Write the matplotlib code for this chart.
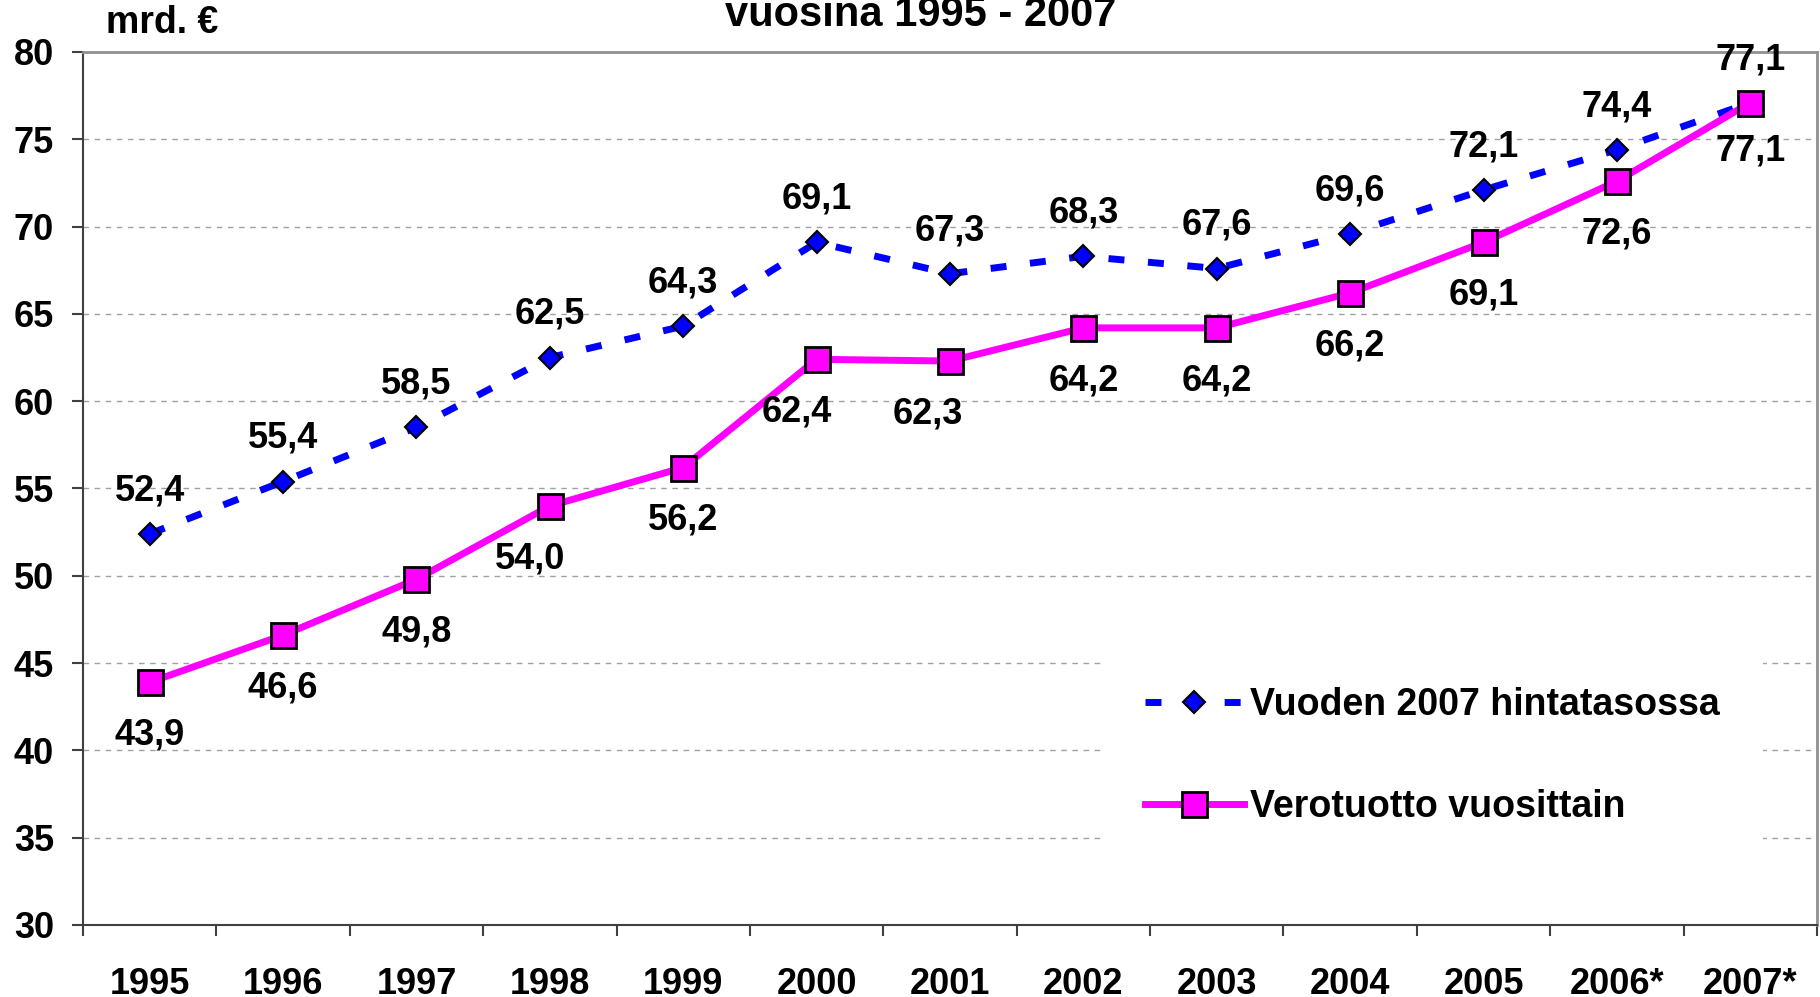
import matplotlib.pyplot as plt
import numpy as np

plt.rcParams['font.family'] = ['Liberation Sans', 'DejaVu Sans']
plt.rcParams['font.weight'] = 'bold'

years = ['1995', '1996', '1997', '1998', '1999', '2000', '2001', '2002',
         '2003', '2004', '2005', '2006*', '2007*']
real_2007 = [52.4, 55.4, 58.5, 62.5, 64.3, 69.1, 67.3, 68.3, 67.6, 69.6, 72.1, 74.4, 77.1]
nominal = [43.9, 46.6, 49.8, 54.0, 56.2, 62.4, 62.3, 64.2, 64.2, 66.2, 69.1, 72.6, 77.1]
real_label = 'Vuoden 2007 hintatasossa'
nominal_label = 'Verotuotto vuosittain'

BLUE = '#0000FF'
MAGENTA = '#FF00FF'
FS = 26

fig = plt.figure(figsize=(18.2, 9.97), dpi=100)
ax = fig.add_axes([83 / 1820, 1 - 925 / 997, (1817 - 83) / 1820, (925 - 52) / 997])

x = np.arange(len(years))

l1, = ax.plot(x, real_2007, color=BLUE, lw=5, dashes=(2.3, 3.4),
              marker='D', markersize=11, markerfacecolor=BLUE,
              markeredgecolor='black', markeredgewidth=1.5, zorder=3,
              label=real_label)
l2, = ax.plot(x, nominal, color=MAGENTA, lw=5, marker='s', markersize=18,
              markerfacecolor=MAGENTA, markeredgecolor='black',
              markeredgewidth=2, zorder=4, label=nominal_label)

# value labels
last = len(years) - 1
for i, v in enumerate(real_2007):
    dy = -35 if i == last else 31
    ax.annotate(f'{v:.1f}'.replace('.', ','), (i, v), xytext=(0, dy),
                textcoords='offset points', ha='center', va='center',
                fontsize=FS, fontweight='bold', zorder=5)
nominal_dx = {3: -14, 5: -14, 6: -16}
for i, v in enumerate(nominal):
    dy = 31 if i == last else -38
    ax.annotate(f'{v:.1f}'.replace('.', ','), (i, v),
                xytext=(nominal_dx.get(i, 0), dy),
                textcoords='offset points', ha='center', va='center',
                fontsize=FS, fontweight='bold', zorder=5)

ax.set_xlim(-0.5, len(years) - 0.5)
ax.set_ylim(30, 80)
ax.set_yticks(np.arange(30, 81, 5))
ax.set_xticks(np.arange(-0.5, len(years), 1))
ax.set_xticklabels([])
ax.set_xticks(x, minor=True)
ax.set_xticklabels(years, minor=True)
ax.tick_params(axis='x', which='major', length=8, width=1.5, color='#404040',
               direction='out')
ax.tick_params(axis='x', which='minor', length=0, pad=30, labelsize=FS)
ax.tick_params(axis='y', length=8, width=1.5, color='#404040', pad=13,
               labelsize=FS)

ax.grid(axis='y', color='#A0A0A0', linestyle=(0, (4, 4)), lw=1)
ax.set_axisbelow(True)

for s in ['top', 'right']:
    ax.spines[s].set_color('#909090')
    ax.spines[s].set_linewidth(2)
for s in ['left', 'bottom']:
    ax.spines[s].set_color('#404040')
    ax.spines[s].set_linewidth(1.5)

leg = ax.legend(handles=[l1, l2], loc='center left',
                bbox_to_anchor=(1083 / 1820, 1 - 756 / 997),
                bbox_transform=fig.transFigure, fontsize=27,
                frameon=True, fancybox=False, borderpad=1.15,
                handlelength=2.64, handletextpad=0.17, labelspacing=1.75)
leg.get_frame().set_facecolor('white')
leg.get_frame().set_edgecolor('none')
leg.get_frame().set_alpha(1)
leg.set_zorder(6)

fig.text(921 / 1820, 1 - 26 / 997, 'vuosina 1995 - 2007', ha='center',
         va='baseline', fontsize=30, fontweight='bold')
fig.text(106 / 1820, 1 - 33 / 997, 'mrd. €', ha='left', va='baseline',
         fontsize=27, fontweight='bold')

fig.savefig('out.png', dpi=100)
